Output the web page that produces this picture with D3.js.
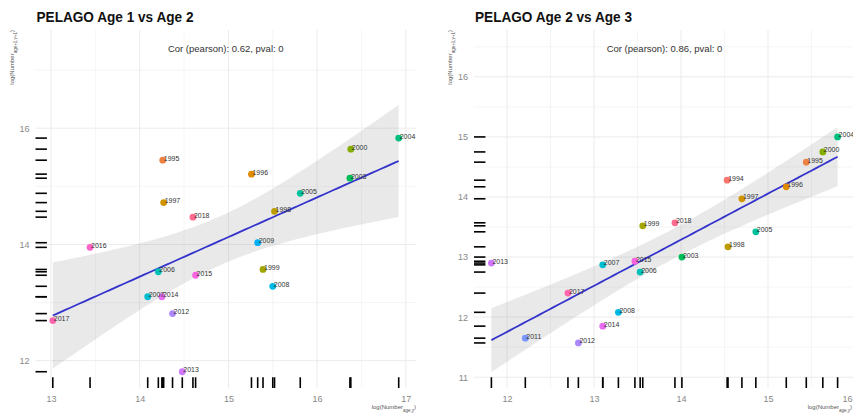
<!DOCTYPE html>
<html>
<head>
<meta charset="utf-8">
<script src="https://cdn.jsdelivr.net/npm/d3@7"></script>
<style>
  body { margin: 0; background: #fff; }
  svg { font-family: "Liberation Sans", Arial, sans-serif; }
</style>
</head>
<body>
<div class="chart"></div>
<script>
// all years in the colour factor
const yearLevels = d3.range(1994, 2019);

// panel 1: Age 1 vs Age 2
const years1 = [2004, 2000, 1995, 1996, 2003, 2005, 1997, 1998, 2018, 2009,
                2016, 2006, 2015, 1999, 2008, 2007, 2014, 2012, 2017, 2013];
const x1 = [16.92, 16.38, 14.26, 15.26, 16.37, 15.81, 14.27, 15.52, 14.60, 15.33,
            13.44, 14.21, 14.63, 15.39, 15.50, 14.09, 14.25, 14.37, 13.02, 14.48];
const y1 = [15.83, 15.64, 15.45, 15.21, 15.14, 14.88, 14.72, 14.57, 14.47, 14.03,
            13.95, 13.53, 13.47, 13.57, 13.28, 13.10, 13.10, 12.81, 12.69, 11.81];

// panel 2: Age 2 vs Age 3
const years2 = [2004, 2000, 1995, 1994, 1996, 1997, 1999, 2018, 2005, 1998,
                2003, 2013, 2007, 2015, 2006, 2017, 2008, 2014, 2011, 2012];
const x2 = [15.80, 15.63, 15.44, 14.53, 15.21, 14.70, 13.56, 13.93, 14.86, 14.54,
            14.01, 11.82, 13.10, 13.47, 13.53, 12.70, 13.28, 13.10, 12.21, 12.82];
const y2 = [15.00, 14.75, 14.58, 14.28, 14.17, 13.97, 13.52, 13.57, 13.42, 13.17,
            13.00, 12.90, 12.87, 12.93, 12.75, 12.40, 12.08, 11.85, 11.65, 11.57];

const titles = ["PELAGO Age 1 vs Age 2", "PELAGO Age 2 vs Age 3"];
const corText = ["Cor (pearson): 0.62, pval: 0", "Cor (pearson): 0.86, pval: 0"];
const xTicks1 = [13, 14, 15, 16, 17];
const yTicks1 = [12, 14, 16];
const xTicks2 = [12, 13, 14, 15, 16];
const yTicks2 = [11, 12, 13, 14, 15, 16];

const W = 853, H = 414;

// ggplot style hue palette (polar LUV)
function hclLuv(h, c, l) {
  const Xn = 95.047, Yn = 100, Zn = 108.883;
  const un = 4 * Xn / (Xn + 15 * Yn + 3 * Zn), vn = 9 * Yn / (Xn + 15 * Yn + 3 * Zn);
  const hr = h * Math.PI / 180;
  const u = c * Math.cos(hr), v = c * Math.sin(hr);
  const Y = l > 8 ? Yn * Math.pow((l + 16) / 116, 3) : Yn * l / 903.3;
  const up = u / (13 * l) + un, vp = v / (13 * l) + vn;
  const X = Y * 9 * up / (4 * vp), Z = Y * (12 - 3 * up - 20 * vp) / (4 * vp);
  const x = X / 100, y = Y / 100, z = Z / 100;
  let r = 3.2404542 * x - 1.5371385 * y - 0.4985314 * z;
  let g = -0.9692660 * x + 1.8760108 * y + 0.0415560 * z;
  let b = 0.0556434 * x - 0.2040259 * y + 1.0572252 * z;
  const gam = t => {
    t = Math.max(0, Math.min(1, t));
    return 255 * (t <= 0.0031308 ? 12.92 * t : 1.055 * Math.pow(t, 1 / 2.4) - 0.055);
  };
  return d3.rgb(gam(r), gam(g), gam(b)).formatHex();
}
const hues = d3.range(yearLevels.length).map(i => 15 + 360 * i / yearLevels.length);
const color = d3.scaleOrdinal()
  .domain(yearLevels)
  .range(hues.map(h => hclLuv(h, 100, 65)));

const svg = d3.select(".chart").append("svg")
  .attr("width", W)
  .attr("height", H);

function drawPanel(cfg) {
  const { xs, ys, yrs, xDomain, yDomain, left, right, xTicks, yTicks, title, cor, tval } = cfg;
  const top = 30, bottom = 388;
  const x = d3.scaleLinear().domain(xDomain).range([left, right]);
  const y = d3.scaleLinear().domain(yDomain).range([bottom, top]);
  const g = svg.append("g");

  // grid
  const minorX = d3.range(Math.ceil(xDomain[0] * 2) / 2, xDomain[1], 0.5);
  const minorY = d3.range(Math.ceil(yDomain[0] * 2) / 2, yDomain[1], 0.5);
  g.selectAll(".gx").data(minorX).enter().append("line")
    .attr("x1", d => x(d)).attr("x2", d => x(d))
    .attr("y1", top).attr("y2", bottom)
    .attr("stroke", "#ebebeb")
    .attr("stroke-width", d => Number.isInteger(d) ? 1 : 0.5);
  const yGrid = cfg.yMajorStep === 2
    ? d3.range(Math.ceil(yDomain[0]), yDomain[1], 1)
    : minorY;
  g.selectAll(".gy").data(yGrid).enter().append("line")
    .attr("x1", left).attr("x2", Math.min(right, W))
    .attr("y1", d => y(d)).attr("y2", d => y(d))
    .attr("stroke", "#ebebeb")
    .attr("stroke-width", d => yTicks.includes(d) ? 1 : 0.5);

  // regression + confidence band
  const n = xs.length;
  const mx = d3.mean(xs), my = d3.mean(ys);
  let sxx = 0, sxy = 0;
  for (let i = 0; i < n; i++) { sxx += (xs[i] - mx) ** 2; sxy += (xs[i] - mx) * (ys[i] - my); }
  const b = sxy / sxx, a = my - b * mx;
  let sse = 0;
  for (let i = 0; i < n; i++) sse += (ys[i] - a - b * xs[i]) ** 2;
  const s = Math.sqrt(sse / (n - 2));
  const grid = d3.range(80).map(i => d3.min(xs) + (d3.max(xs) - d3.min(xs)) * i / 79);
  const fit = grid.map(gx => {
    const se = s * Math.sqrt(1 / n + (gx - mx) ** 2 / sxx);
    const f = a + b * gx;
    return { x: gx, f, lo: f - tval * se, hi: f + tval * se };
  });
  g.append("path").datum(fit)
    .attr("d", d3.area().x(d => x(d.x)).y0(d => y(d.lo)).y1(d => y(d.hi)))
    .attr("fill", "#999999")
    .attr("fill-opacity", 0.22);

  // rugs
  const rugLen = (bottom - top) * 0.03;
  g.selectAll(".rx").data(xs).enter().append("line")
    .attr("x1", d => x(d)).attr("x2", d => x(d))
    .attr("y1", bottom).attr("y2", bottom - rugLen)
    .attr("stroke", "#000").attr("stroke-width", 1.6);
  const rugW = (right - left) * 0.03;
  g.selectAll(".ry").data(ys).enter().append("line")
    .attr("x1", left).attr("x2", left + rugW)
    .attr("y1", d => y(d)).attr("y2", d => y(d))
    .attr("stroke", "#000").attr("stroke-width", 1.6);

  g.append("path").datum(fit)
    .attr("d", d3.line().x(d => x(d.x)).y(d => y(d.f)))
    .attr("fill", "none")
    .attr("stroke", "#3333cc")
    .attr("stroke-width", 1.8);

  // points + labels
  const pts = xs.map((v, i) => ({ x: v, y: ys[i], yr: yrs[i] }));
  g.selectAll(".pt").data(pts).enter().append("circle")
    .attr("cx", d => x(d.x)).attr("cy", d => y(d.y))
    .attr("r", 3.4)
    .attr("fill", d => color(d.yr));
  g.selectAll(".lb").data(pts).enter().append("text")
    .attr("x", d => x(d.x) + 1)
    .attr("y", d => y(d.y) + 0.5)
    .attr("font-size", 7)
    .attr("fill", "#333")
    .text(d => d.yr);

  // axes
  const ax = g.append("g").attr("transform", `translate(0,${bottom})`)
    .call(d3.axisBottom(x).tickValues(xTicks).tickSize(0).tickPadding(8).tickFormat(d3.format("d")));
  const ay = g.append("g").attr("transform", `translate(${left},0)`)
    .call(d3.axisLeft(y).tickValues(yTicks).tickSize(0).tickPadding(6).tickFormat(d3.format("d")));
  [ax, ay].forEach(a => {
    a.select(".domain").remove();
    a.selectAll("text").attr("fill", "#888").attr("font-size", 9)
      .attr("font-family", "Liberation Sans, Arial, sans-serif");
  });
  // keep tick labels inside the window
  ax.selectAll(".tick").filter(d => x(d) > W - 6)
    .select("text").attr("text-anchor", "end").attr("dx", W - 1 - x(xTicks[xTicks.length - 1]));

  // annotation
  g.append("text")
    .attr("x", (left + right) / 2).attr("y", 52)
    .attr("text-anchor", "middle")
    .attr("font-size", 9.5).attr("fill", "#333")
    .text(cor);

  // title
  g.append("text")
    .attr("x", left + 1).attr("y", 22)
    .attr("font-size", 15.5).attr("font-weight", "bold").attr("fill", "#111")
    .attr("textLength", 157).attr("lengthAdjust", "spacingAndGlyphs")
    .text(title);

  // axis titles
  const xl = g.append("text")
    .attr("x", Math.min(right, W - 1)).attr("y", 409)
    .attr("text-anchor", "end")
    .attr("font-size", 6).attr("fill", "#555");
  xl.append("tspan").text("log(Number");
  xl.append("tspan").attr("baseline-shift", "sub").attr("font-size", 4.5).text("age,y");
  xl.append("tspan").text(")");
  const yl = g.append("text")
    .attr("transform", `translate(${left - 22},${top}) rotate(-90)`)
    .attr("text-anchor", "end")
    .attr("font-size", 6).attr("fill", "#555");
  yl.append("tspan").text("log(Number");
  yl.append("tspan").attr("baseline-shift", "sub").attr("font-size", 4.5).text("age+1,y+1");
  yl.append("tspan").text(")");
}

drawPanel({
  xs: x1, ys: y1, yrs: years1,
  xDomain: [12.825, 17.115], yDomain: [11.53, 17.69],
  left: 35.5, right: 416, xTicks: xTicks1, yTicks: yTicks1, yMajorStep: 2,
  title: titles[0], cor: corText[0], tval: 2.101
});
drawPanel({
  xs: x2, ys: y2, yrs: years2,
  xDomain: [11.62, 16.0], yDomain: [10.82, 16.78],
  left: 474, right: 855, xTicks: xTicks2, yTicks: yTicks2, yMajorStep: 1,
  title: titles[1], cor: corText[1], tval: 2.101
});
</script>
</body>
</html>
